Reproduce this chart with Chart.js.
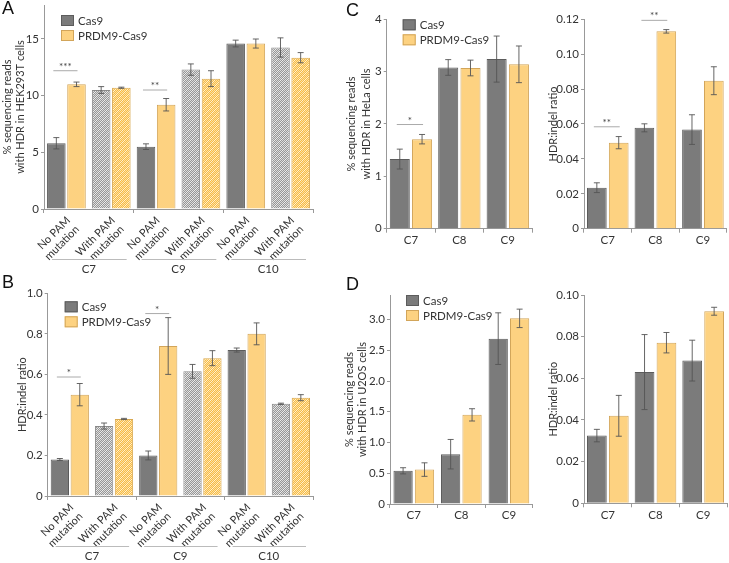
<!DOCTYPE html>
<html lang="en">
<head>
<meta charset="UTF-8">
<title>HDR with Cas9 and PRDM9-Cas9</title>
<script src="https://cdn.jsdelivr.net/npm/chart.js"></script>
<style>
  body { margin: 0; background: #fff; }
  #page { position: relative; width: 729px; height: 563px; overflow: hidden; font-family: Lato, 'Liberation Sans', sans-serif; }
  canvas { position: absolute; }
  .tag { position: absolute; font-family: 'Liberation Sans', sans-serif; font-size: 18px; color: #111; }
</style>
</head>
<body>
<div id="page">
  <canvas id="chartA"></canvas>
  <canvas id="chartB"></canvas>
  <canvas id="chartC1"></canvas>
  <canvas id="chartC2"></canvas>
  <canvas id="chartD1"></canvas>
  <canvas id="chartD2"></canvas>
  <div class="tag" style="left:2px;top:-2px">A</div>
  <div class="tag" style="left:2px;top:272px">B</div>
  <div class="tag" style="left:346px;top:0px">C</div>
  <div class="tag" style="left:346px;top:274px">D</div>
</div>

<script>
// ---------------- data ----------------
const pamLabels = [['No PAM', 'mutation'], ['With PAM', 'mutation'],
                   ['No PAM', 'mutation'], ['With PAM', 'mutation'],
                   ['No PAM', 'mutation'], ['With PAM', 'mutation']];
const pamGroups = ['C7', 'C9', 'C10'];
const siteLabels = ['C7', 'C8', 'C9'];

// A: HEK293T % HDR reads
const cas9A = [5.8, 10.5, 5.5, 12.3, 14.6, 14.25];
const cas9ErrA = [0.5, 0.3, 0.25, 0.5, 0.3, 0.85];
const prdmA = [11.0, 10.7, 9.2, 11.5, 14.6, 13.35];
const prdmErrA = [0.2, 0.05, 0.55, 0.7, 0.4, 0.45];
const yTicksA = ['0', '5', '10', '15'];
const sigCatA = [0, 2];
const sigLevelA = [12.2, 10.5];
const sigTextA = ['***', '**'];

// B: HEK293T HDR:indel
const cas9B = [0.18, 0.345, 0.20, 0.615, 0.72, 0.455];
const cas9ErrB = [0.005, 0.015, 0.022, 0.034, 0.01, 0.003];
const prdmB = [0.50, 0.38, 0.74, 0.68, 0.80, 0.485];
const prdmErrB = [0.055, 0.003, 0.14, 0.037, 0.054, 0.015];
const yTicksB = ['0', '0.2', '0.4', '0.6', '0.8', '1.0'];
const sigCatB = [0, 2];
const sigLevelB = [0.587, 0.90];
const sigTextB = ['*', '*'];

// C: HeLa
const cas9C1 = [1.33, 3.08, 3.24];
const cas9ErrC1 = [0.19, 0.15, 0.44];
const prdmC1 = [1.71, 3.07, 3.14];
const prdmErrC1 = [0.09, 0.15, 0.35];
const yTicksC1 = ['0', '1', '2', '3', '4'];
const sigCatC1 = [0];
const sigLevelC1 = [1.99];
const sigTextC1 = ['*'];

const cas9C2 = [0.0235, 0.0578, 0.0568];
const cas9ErrC2 = [0.0028, 0.0023, 0.0085];
const prdmC2 = [0.0493, 0.1131, 0.0848];
const prdmErrC2 = [0.0035, 0.0010, 0.0080];
const yTicksC2 = ['0', '0.02', '0.04', '0.06', '0.08', '0.10', '0.12'];
const sigCatC2 = [0, 1];
const sigLevelC2 = [0.0584, 0.1194];
const sigTextC2 = ['**', '**'];

// D: U2OS
const cas9D1 = [0.54, 0.81, 2.69];
const cas9ErrD1 = [0.05, 0.24, 0.42];
const prdmD1 = [0.56, 1.45, 3.02];
const prdmErrD1 = [0.11, 0.10, 0.15];
const yTicksD1 = ['0', '0.5', '1.0', '1.5', '2.0', '2.5', '3.0'];

const cas9D2 = [0.0325, 0.063, 0.0685];
const cas9ErrD2 = [0.003, 0.018, 0.0098];
const prdmD2 = [0.042, 0.0771, 0.0922];
const prdmErrD2 = [0.0098, 0.0049, 0.0019];
const yTicksD2 = ['0', '0.02', '0.04', '0.06', '0.08', '0.10'];

// ---------------- style ----------------
const colCas9 = '#7b7b7b', edgeCas9 = '#5c5c5c';
const colPrdm = '#fdd281', edgePrdm = '#d2a55a';
const txt = '#333';
const axisCol = '#999';

// 1px checker with a light diagonal band, like the dithered fills
function hatch(ctx, dark, light, band) {
  const c = document.createElement('canvas');
  c.width = 6; c.height = 6;
  const g = c.getContext('2d');
  for (let x = 0; x < 6; x++) {
    for (let y = 0; y < 6; y++) {
      g.fillStyle = (x + y) % 6 === 0 ? band : ((x + y) % 2 ? dark : light);
      g.fillRect(x, y, 1, 1);
    }
  }
  return ctx.createPattern(c, 'repeat');
}

// box = canvas [left, top, w, h]; area = plot [left, top, right, bottom] in page px
function makeChart(id, box, area, d) {
  const el = document.getElementById(id);
  el.style.left = box[0] + 'px';
  el.style.top = box[1] + 'px';
  el.width = box[2];
  el.height = box[3];
  const ctx = el.getContext('2d');
  const hGray = hatch(ctx, '#979797', '#dadada', '#eeeeee');
  const hGold = hatch(ctx, '#f6ba48', '#fee2a0', '#fff3d4');
  const casFill = d.labels.map((_, i) => d.pam && i % 2 ? hGray : colCas9);
  const casEdge = d.labels.map((_, i) => d.pam && i % 2 ? '#8a8a8a' : edgeCas9);
  const prdFill = d.labels.map((_, i) => d.pam && i % 2 ? hGold : colPrdm);
  const prdEdge = d.labels.map((_, i) => d.pam && i % 2 ? '#d8a850' : edgePrdm);

  const overlay = {
    id: 'overlay' + id,
    afterDatasetsDraw(chart) {
      const c = chart.ctx, ys = chart.scales.y, xs = chart.scales.x, ca = chart.chartArea;
      c.save();
      // error bars
      chart.data.datasets.forEach((ds, di) => {
        const meta = chart.getDatasetMeta(di);
        meta.data.forEach((bar, i) => {
          const v = ds.data[i], e = ds.err[i];
          const y1 = ys.getPixelForValue(v + e), y2 = ys.getPixelForValue(v - e);
          c.strokeStyle = '#555';
          c.lineWidth = 0.9;
          c.beginPath();
          c.moveTo(bar.x, y1); c.lineTo(bar.x, y2);
          c.moveTo(bar.x - 3, y1); c.lineTo(bar.x + 3, y1);
          c.moveTo(bar.x - 3, y2); c.lineTo(bar.x + 3, y2);
          c.stroke();
        });
      });
      // significance
      (d.sigCat || []).forEach((cat, k) => {
        const a = chart.getDatasetMeta(0).data[cat], b = chart.getDatasetMeta(1).data[cat];
        const y = ys.getPixelForValue(d.sigLevel[k]);
        c.strokeStyle = '#aaa';
        c.lineWidth = 1;
        c.beginPath();
        c.moveTo(a.x - 3, y); c.lineTo(b.x + 1, y);
        c.stroke();
        c.fillStyle = '#444';
        c.font = '10px Lato, sans-serif';
        c.textAlign = 'center';
        c.textBaseline = 'alphabetic';
        c.fillText(d.sigText[k], (a.x + b.x) / 2 - 1, y - 1);
      });
      // legend
      const lx = ca.left + d.legend[0], ly = ca.top + d.legend[1];
      [['Cas9', colCas9, edgeCas9], ['PRDM9-Cas9', colPrdm, edgePrdm]].forEach((it, k) => {
        const yy = ly + k * 15;
        c.fillStyle = it[1];
        c.fillRect(lx, yy, 13, 11);
        c.strokeStyle = it[2];
        c.lineWidth = 1;
        c.strokeRect(lx + 0.5, yy + 0.5, 12, 10);
        c.fillStyle = txt;
        c.font = '11.5px Lato, sans-serif';
        c.textAlign = 'left';
        c.textBaseline = 'middle';
        c.fillText(it[0], lx + 17, yy + 6);
      });
      // group labels under the rotated ticks
      if (d.groups) {
        d.groups.forEach((g, k) => {
          const x0 = xs.getPixelForValue(2 * k - 0.5), x1 = xs.getPixelForValue(2 * k + 1.5);
          const y = ca.bottom + 50;
          c.strokeStyle = '#bbb';
          c.lineWidth = 1;
          c.beginPath();
          c.moveTo(x0 + 8, y + 0.5); c.lineTo(x1 - 7, y + 0.5);
          c.stroke();
          c.fillStyle = txt;
          c.font = '11.5px Lato, sans-serif';
          c.textAlign = 'center';
          c.textBaseline = 'middle';
          c.fillText(g, (x0 + x1) / 2, y + 10);
        });
      }
      c.restore();
    }
  };

  return new Chart(ctx, {
    type: 'bar',
    data: {
      labels: d.labels,
      datasets: [
        { label: 'Cas9', data: d.cas9, err: d.cas9Err, backgroundColor: casFill, borderColor: casEdge, borderWidth: 1 },
        { label: 'PRDM9-Cas9', data: d.prdm, err: d.prdmErr, backgroundColor: prdFill, borderColor: prdEdge, borderWidth: 1 }
      ]
    },
    options: {
      responsive: false,
      animation: false,
      devicePixelRatio: 1,
      layout: { padding: { left: 0, top: area[1] - box[1], right: box[0] + box[2] - area[2], bottom: 0 } },
      plugins: { legend: { display: false }, tooltip: { enabled: false } },
      datasets: { bar: { categoryPercentage: d.catPct, barPercentage: d.barPct } },
      scales: {
        x: {
          grid: {
            drawOnChartArea: false, tickLength: 4, offset: true,
            color: c => (!d.pam || c.index === undefined || c.index % 2 === 0) ? axisCol : 'rgba(0,0,0,0)'
          },
          border: { color: axisCol },
          ticks: {
            color: txt, font: { size: d.pam ? 11 : 11.5, family: 'Lato, sans-serif', lineHeight: 1.15 },
            padding: d.pam ? 1 : 1, labelOffset: d.pam ? 2 : 0,
            autoSkip: false, minRotation: d.pam ? 45 : 0, maxRotation: d.pam ? 45 : 0
          },
          afterFit: s => { s.height = box[1] + box[3] - area[3]; s.paddingLeft = 0; s.paddingRight = 0; }
        },
        y: {
          min: 0, max: d.yMax,
          grid: { drawOnChartArea: false, tickLength: 3, color: axisCol },
          border: { color: axisCol },
          ticks: {
            color: txt, font: { size: 11.5, family: 'Lato, sans-serif' }, padding: 2,
            callback: v => d.yTicks.find(t => parseFloat(t) === v)
          },
          afterBuildTicks: s => { s.ticks = d.yTicks.map(t => ({ value: parseFloat(t) })); },
          title: {
            display: true, text: d.title, color: txt,
            font: { size: 11, family: 'Lato, sans-serif', lineHeight: d.titleLh || 1.2 },
            padding: { top: d.titlePad, bottom: 0 }
          },
          afterFit: s => { s.width = area[0] - box[0]; s.paddingTop = 0; s.paddingBottom = 0; }
        }
      }
    },
    plugins: [overlay]
  });
}

makeChart('chartA', [0, 0, 360, 280], [44, 5, 313, 209], {
  labels: pamLabels, groups: pamGroups, pam: true,
  cas9: cas9A, cas9Err: cas9ErrA, prdm: prdmA, prdmErr: prdmErrA,
  yTicks: yTicksA, yMax: 18, sigCat: sigCatA, sigLevel: sigLevelA, sigText: sigTextA,
  catPct: 0.9, barPct: 0.92, legend: [17, 10],
  title: ['% sequencing reads', 'with HDR in HEK293T cells'], titlePad: 1
});

makeChart('chartB', [0, 280, 360, 283], [47.7, 293.3, 313, 496], {
  labels: pamLabels, groups: pamGroups, pam: true,
  cas9: cas9B, cas9Err: cas9ErrB, prdm: prdmB, prdmErr: prdmErrB,
  yTicks: yTicksB, yMax: 1.0, sigCat: sigCatB, sigLevel: sigLevelB, sigText: sigTextB,
  catPct: 0.9, barPct: 0.92, legend: [17, 8],
  title: 'HDR:indel ratio', titlePad: 16
});

makeChart('chartC1', [335, 0, 205, 280], [386.7, 19.3, 532, 228.7], {
  labels: siteLabels, pam: false,
  cas9: cas9C1, cas9Err: cas9ErrC1, prdm: prdmC1, prdmErr: prdmErrC1,
  yTicks: yTicksC1, yMax: 4, sigCat: sigCatC1, sigLevel: sigLevelC1, sigText: sigTextC1,
  catPct: 0.92, barPct: 0.9, legend: [16, 0],
  title: ['% sequencing reads', 'with HDR in HeLa cells'], titlePad: 8.4, titleLh: 1.4
});

makeChart('chartC2', [540, 0, 189, 280], [584, 19.3, 726.7, 228.7], {
  labels: siteLabels, pam: false,
  cas9: cas9C2, cas9Err: cas9ErrC2, prdm: prdmC2, prdmErr: prdmErrC2,
  yTicks: yTicksC2, yMax: 0.12, sigCat: sigCatC2, sigLevel: sigLevelC2, sigText: sigTextC2,
  catPct: 0.92, barPct: 0.9, legend: [-999, 0],
  title: 'HDR:indel ratio', titlePad: 6.4
});

makeChart('chartD1', [335, 280, 205, 283], [390, 295, 532.7, 504], {
  labels: siteLabels, pam: false,
  cas9: cas9D1, cas9Err: cas9ErrD1, prdm: prdmD1, prdmErr: prdmErrD1,
  yTicks: yTicksD1, yMax: 3.4,
  catPct: 0.9, barPct: 0.9, legend: [16, 0],
  title: ['% sequencing reads', 'with HDR in U2OS cells'], titlePad: 8, titleLh: 1.2
});

makeChart('chartD2', [540, 280, 189, 283], [584, 295, 727, 503.3], {
  labels: siteLabels, pam: false,
  cas9: cas9D2, cas9Err: cas9ErrD2, prdm: prdmD2, prdmErr: prdmErrD2,
  yTicks: yTicksD2, yMax: 0.10,
  catPct: 0.92, barPct: 0.9, legend: [-999, 0],
  title: 'HDR:indel ratio', titlePad: 6.4
});
</script>
</body>
</html>
